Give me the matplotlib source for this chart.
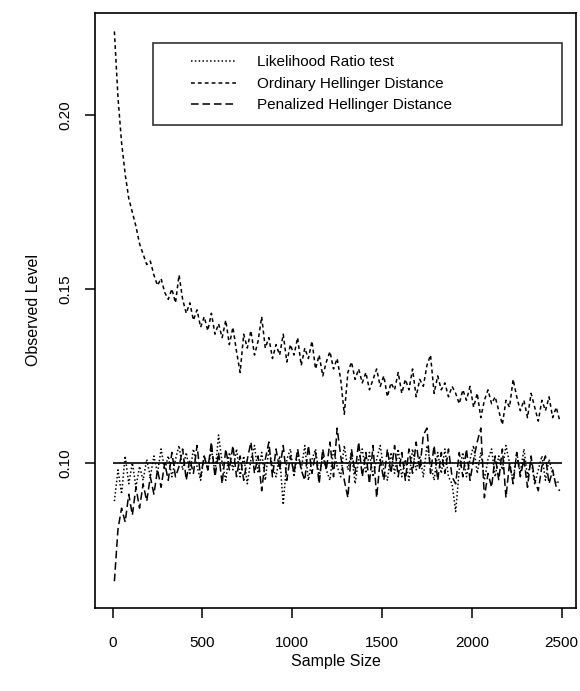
import matplotlib
matplotlib.use("Agg")
import matplotlib.pyplot as plt
import numpy as np
from matplotlib.legend_handler import HandlerLine2D

plt.rcParams['font.family'] = ['Liberation Sans', 'DejaVu Sans']

# sample sizes (every 20 from 10 to 2490)
sample_size = np.arange(10, 2500, 20)

# ordinary Hellinger distance, observed level
ordinary = [0.224, 0.205, 0.192, 0.183, 0.176, 0.172, 0.168, 0.163, 0.160, 0.157,
            0.158, 0.154, 0.151, 0.153, 0.149, 0.147, 0.150, 0.146, 0.154, 0.147,
            0.143, 0.146, 0.141, 0.144, 0.139, 0.142, 0.138, 0.143, 0.137, 0.140,
            0.136, 0.141, 0.134, 0.139, 0.132, 0.126, 0.137, 0.133, 0.138, 0.131,
            0.135, 0.142, 0.133, 0.136, 0.130, 0.134, 0.131, 0.137, 0.129, 0.134,
            0.131, 0.136, 0.128, 0.133, 0.130, 0.135, 0.127, 0.131, 0.125, 0.129,
            0.132, 0.127, 0.130, 0.124, 0.114, 0.126, 0.129, 0.124, 0.127, 0.123,
            0.126, 0.121, 0.124, 0.127, 0.122, 0.125, 0.119, 0.123, 0.121, 0.126,
            0.120, 0.124, 0.121, 0.127, 0.119, 0.124, 0.122, 0.128, 0.131, 0.120,
            0.125, 0.121, 0.123, 0.119, 0.122, 0.120, 0.117, 0.121, 0.118, 0.122,
            0.116, 0.120, 0.113, 0.118, 0.121, 0.117, 0.119, 0.115, 0.111, 0.118,
            0.116, 0.124, 0.119, 0.115, 0.118, 0.113, 0.120, 0.116, 0.112, 0.118,
            0.115, 0.119, 0.113, 0.116, 0.112]

# penalized Hellinger distance
penalized = [0.066, 0.081, 0.087, 0.083, 0.091, 0.085, 0.093, 0.087, 0.094, 0.089,
             0.096, 0.091, 0.098, 0.093, 0.100, 0.095, 0.103, 0.096, 0.099, 0.104,
             0.095, 0.101, 0.097, 0.105, 0.096, 0.102, 0.098, 0.106, 0.096, 0.103,
             0.094, 0.104, 0.098, 0.105, 0.096, 0.102, 0.095, 0.101, 0.106, 0.097,
             0.102, 0.092, 0.101, 0.106, 0.096, 0.104, 0.098, 0.105, 0.095, 0.102,
             0.097, 0.104, 0.098, 0.095, 0.105, 0.097, 0.103, 0.094, 0.104, 0.098,
             0.106, 0.096, 0.110, 0.102, 0.095, 0.090, 0.104, 0.097, 0.106, 0.096,
             0.103, 0.094, 0.105, 0.090, 0.101, 0.095, 0.104, 0.097, 0.105, 0.096,
             0.103, 0.095, 0.104, 0.097, 0.106, 0.098, 0.108, 0.110, 0.097, 0.105,
             0.095, 0.103, 0.097, 0.104, 0.096, 0.094, 0.103, 0.096, 0.104, 0.095,
             0.101, 0.106, 0.110, 0.090, 0.097, 0.093, 0.102, 0.095, 0.104, 0.090,
             0.100, 0.094, 0.103, 0.096, 0.101, 0.093, 0.102, 0.095, 0.092, 0.099,
             0.102, 0.094, 0.098, 0.093, 0.092]

# likelihood ratio test
lrt = [0.089, 0.098, 0.091, 0.102, 0.094, 0.100, 0.093, 0.099, 0.095, 0.101,
       0.096, 0.102, 0.097, 0.104, 0.098, 0.102, 0.096, 0.101, 0.105, 0.098,
       0.103, 0.097, 0.104, 0.099, 0.095, 0.102, 0.098, 0.104, 0.097, 0.108,
       0.100, 0.095, 0.103, 0.098, 0.104, 0.096, 0.102, 0.094, 0.101, 0.105,
       0.097, 0.103, 0.095, 0.104, 0.099, 0.096, 0.102, 0.088, 0.101, 0.104,
       0.096, 0.103, 0.098, 0.105, 0.095, 0.101, 0.104, 0.096, 0.102, 0.098,
       0.095, 0.104, 0.099, 0.096, 0.105, 0.098, 0.103, 0.094, 0.101, 0.104,
       0.097, 0.103, 0.096, 0.101, 0.105, 0.098, 0.095, 0.103, 0.097, 0.104,
       0.096, 0.101, 0.095, 0.104, 0.098, 0.102, 0.096, 0.105, 0.100, 0.095,
       0.103, 0.097, 0.104, 0.096, 0.094, 0.086, 0.098, 0.103, 0.096, 0.101,
       0.105, 0.097, 0.103, 0.095, 0.101, 0.104, 0.096, 0.102, 0.098, 0.105,
       0.100, 0.095, 0.103, 0.097, 0.104, 0.096, 0.101, 0.094, 0.098, 0.102,
       0.095, 0.101, 0.097, 0.094, 0.095]

nominal = 0.10
xticks = [0, 500, 1000, 1500, 2000, 2500]
yticks = [0.10, 0.15, 0.20]


class IndentedLine(HandlerLine2D):
    # R-style legend: sample line starts a bit in from the box edge
    def create_artists(self, legend, orig_handle, xdescent, ydescent,
                       width, height, fontsize, trans):
        arts = super().create_artists(legend, orig_handle, xdescent, ydescent,
                                      width, height, fontsize, trans)
        for a in arts:
            xd = np.asarray(a.get_xdata(), dtype=float)
            if xd.size >= 2:
                x0, x1 = xd.min(), xd.max()
                a.set_xdata(np.linspace(x0 + 0.36 * (x1 - x0), x1, xd.size))
        return arts


fig = plt.figure(figsize=(5.8, 6.91), dpi=100)
ax = fig.add_axes([95/580, 83/691, 481/580, 595/691])

lw = 1.1
l1, = ax.plot(sample_size, lrt, color="black", linestyle=(0, (1, 1.5)), linewidth=lw,
              label="Likelihood Ratio test")
l2, = ax.plot(sample_size, ordinary, color="black", linestyle=(0, (2.5, 2)), linewidth=lw,
              label="Ordinary Hellinger Distance")
l3, = ax.plot(sample_size, penalized, color="black", linestyle=(0, (5, 2.5)), linewidth=lw,
              label="Penalized Hellinger Distance")
ax.hlines(nominal, 0, 2500, color="black", linewidth=1.2)

ax.set_xlim(-98, 2580)
ax.set_ylim(0.0583, 0.2293)
ax.set_xticks(xticks)
ax.set_xticklabels([str(t) for t in xticks])
ax.set_yticks(yticks)
ax.set_yticklabels(["0.10", "0.15", "0.20"], rotation=90, va="center")
ax.tick_params(axis="both", direction="out", length=7, width=1.1, labelsize=11)
ax.tick_params(axis="x", pad=13)
ax.tick_params(axis="y", pad=9)

for s in ax.spines.values():
    s.set_linewidth(1.2)

ax.set_xlabel("Sample Size", fontsize=11.5, labelpad=3)
ax.set_ylabel("Observed Level", fontsize=11.5, labelpad=13)

leg = ax.legend(handles=[l1, l2, l3], loc="upper left",
                bbox_to_anchor=(58/481, 565/595, 409/481, 0), mode="expand",
                borderaxespad=0, fontsize=11, frameon=True, fancybox=False,
                edgecolor="black", borderpad=0.8, labelspacing=0.5,
                handlelength=4.6, handletextpad=1.4,
                handler_map={matplotlib.lines.Line2D: IndentedLine()})
leg.get_frame().set_linewidth(1.2)

fig.savefig("out.png", dpi=100)
